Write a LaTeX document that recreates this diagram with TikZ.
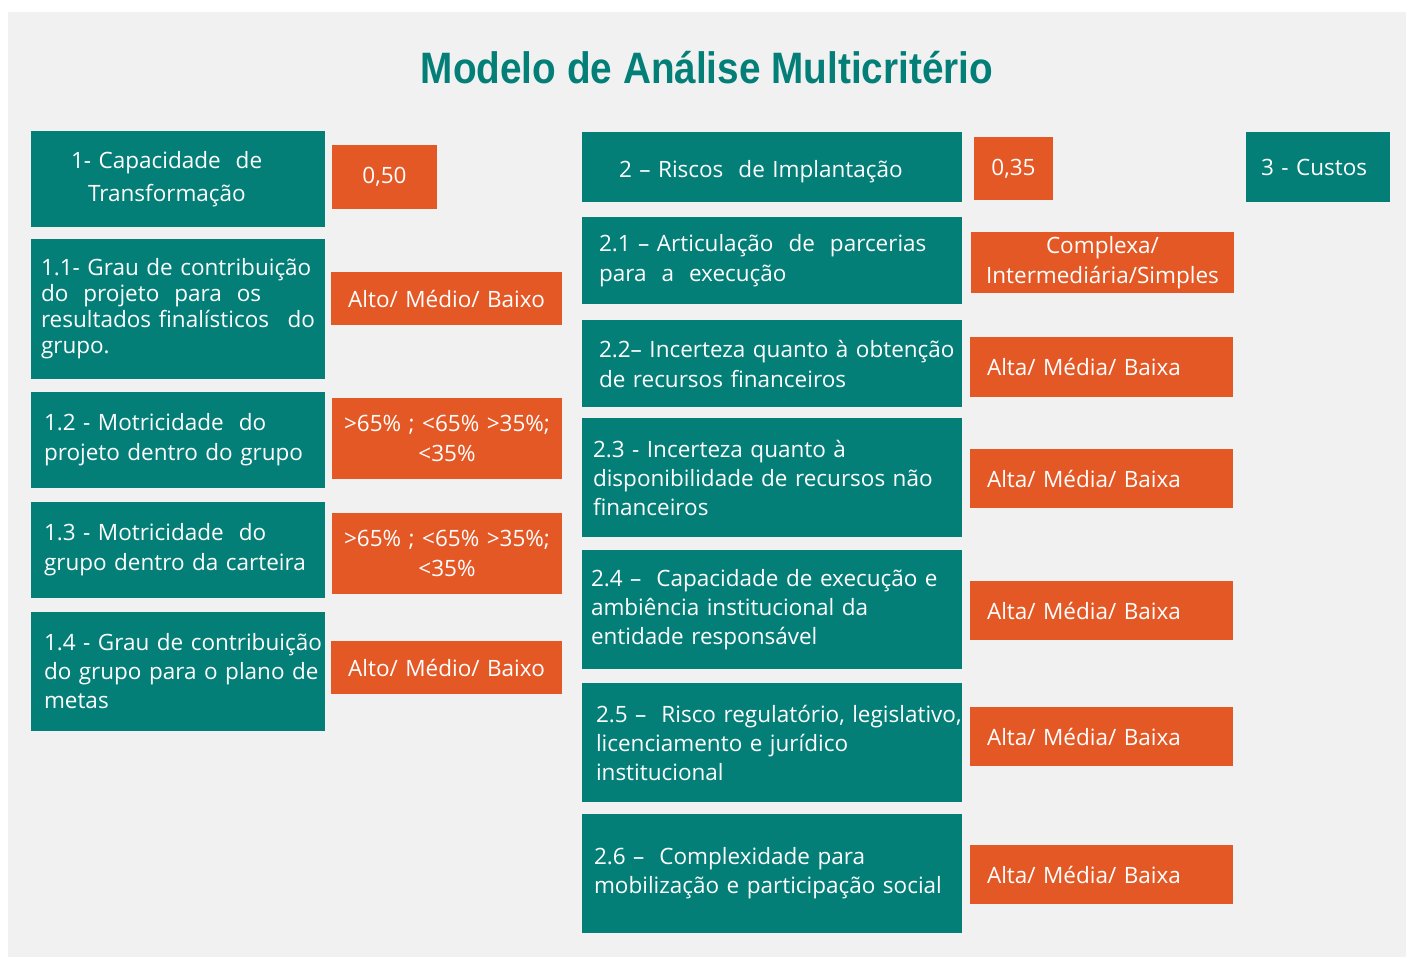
\documentclass[tikz,border=0pt]{standalone}
\usepackage{fontspec}
\setmainfont{Open Sans}
\newfontfamily\titlefont{Liberation Sans}
\definecolor{tealbox}{HTML}{037F78}
\definecolor{orangebox}{HTML}{E45826}
\definecolor{bggray}{HTML}{F1F1F1}
\newcommand\oneln[1]{\mbox{#1}}
\tikzset{
  geom/.code n args={3}{%
    \pgfmathsetmacro\tw{#1-2*#3}%
    \edef\tmpgeom{\noexpand\tikzset{minimum width=#1pt, minimum height=#2pt, inner xsep=#3pt, text width=\tw pt}}%
    \tmpgeom},
  box/.style={anchor=north west, inner ysep=0pt, outer sep=0pt, text=white,
    font=\fontsize{22.5}{30}\selectfont, align=left},
  tbox/.style={box, fill=tealbox},
  obox/.style={box, fill=orangebox},
  cbox/.style={obox, align=center},
  lsp/.style={font=\fontsize{22.5}{#1}\selectfont}
}
\begin{document}
\begin{tikzpicture}[x=1pt,y=-1pt]
\useasboundingbox (0,0) rectangle (1411,958);
\fill[bggray] (8,12) rectangle (1406,957);

\node[anchor=base, text=tealbox, inner sep=0pt] (title) at (707,83)
  {\scalebox{0.88}[1]{\titlefont\bfseries\fontsize{44}{50}\selectfont Modelo de Análise Multicritério}};

% column 1
\node[tbox, geom={294}{96}{40}, lsp=33] (n1) at (31,131)
  {\oneln{1- Capacidade\ \ de}\\\hspace*{17pt}\oneln{Transformação}};
\node[cbox, geom={105}{64}{4}] (o1) at (332,145) {0,50};

\node[tbox, geom={294}{140}{10}, lsp=26] (n11) at (31,239)
  {\oneln{1.1- Grau de contribuição}\\\oneln{do\ \ projeto\ \ para\ \ os}\\\oneln{resultados finalísticos}\hfill\oneln{do}\\\oneln{grupo.}};
\node[cbox, geom={231}{53}{4}] (o11) at (331,272) {Alto/ Médio/ Baixo};

\node[tbox, geom={294}{96}{13}] (n12) at (31,392)
  {\oneln{1.2 - Motricidade\ \ do}\\\oneln{projeto\ dentro do grupo}};
\node[cbox, geom={230}{81}{4}] (o12) at (332,398) {\oneln{>65\% ; <65\% >35\%;}\\<35\%};

\node[tbox, geom={294}{96}{13}] (n13) at (31,502)
  {\oneln{1.3 - Motricidade\ \ do}\\\oneln{grupo dentro\ da carteira}};
\node[cbox, geom={230}{81}{4}] (o13) at (332,513) {\oneln{>65\% ; <65\% >35\%;}\\<35\%};

\node[tbox, geom={294}{119}{13}, lsp=29] (n14) at (31,612)
  {\oneln{1.4 - Grau de contribuição}\\\oneln{do grupo para o plano de}\\\oneln{metas}};
\node[cbox, geom={231}{53}{4}] (o14) at (331,641) {Alto/ Médio/ Baixo};

% column 2
\node[tbox, geom={380}{70}{37}] (n2) at (582,132) {\raisebox{-10pt}[0pt][0pt]{\oneln{2 – Riscos\ \ de Implantação}}};
\node[cbox, geom={79}{63}{4}] (o2) at (974,137) {0,35};

\node[tbox, geom={380}{87}{17}] (n21) at (582,217)
  {\oneln{2.1 – Articulação\ \ de\ \ parcerias}\\\oneln{para\ \ a\ \ execução}};
\node[cbox, geom={263}{61}{4}] (o21) at (971,232) {Complexa/\\\oneln{Intermediária/Simples}};

\node[tbox, geom={380}{87}{17}] (n22) at (582,320)
  {\oneln{2.2– Incerteza quanto à obtenção}\\\oneln{de recursos financeiros}};
\node[obox, geom={263}{60}{17}] (o22) at (970,337) {\oneln{Alta/ Média/ Baixa}};

\node[tbox, geom={380}{119}{11}, lsp=29] (n23) at (582,418)
  {\oneln{2.3 - Incerteza quanto à}\\\oneln{disponibilidade de recursos não}\\\oneln{financeiros}};
\node[obox, geom={263}{59}{17}] (o23) at (970,449) {\oneln{Alta/ Média/ Baixa}};

\node[tbox, geom={380}{119}{9}, lsp=29] (n24) at (582,550)
  {\oneln{2.4 –\ \ Capacidade de execução e}\\\oneln{ambiência institucional da}\\\oneln{entidade responsável}};
\node[obox, geom={263}{59}{17}] (o24) at (970,581) {\oneln{Alta/ Média/ Baixa}};

\node[tbox, geom={380}{119}{14}, lsp=29] (n25) at (582,683)
  {\oneln{2.5 –\ \ Risco regulatório, legislativo,}\\\oneln{licenciamento e jurídico}\\\oneln{institucional}};
\node[obox, geom={263}{59}{17}] (o25) at (970,707) {\oneln{Alta/ Média/ Baixa}};

\node[tbox, geom={380}{119}{12}, lsp=29] (n26) at (582,814)
  {\oneln{2.6 –\ \ Complexidade para}\\\oneln{mobilização e participação social}};
\node[obox, geom={263}{59}{17}] (o26) at (970,845) {\oneln{Alta/ Média/ Baixa}};

% column 3
\node[tbox, geom={144}{70}{15}] (n3) at (1246,132) {\oneln{3 - Custos}};
\end{tikzpicture}
\end{document}
